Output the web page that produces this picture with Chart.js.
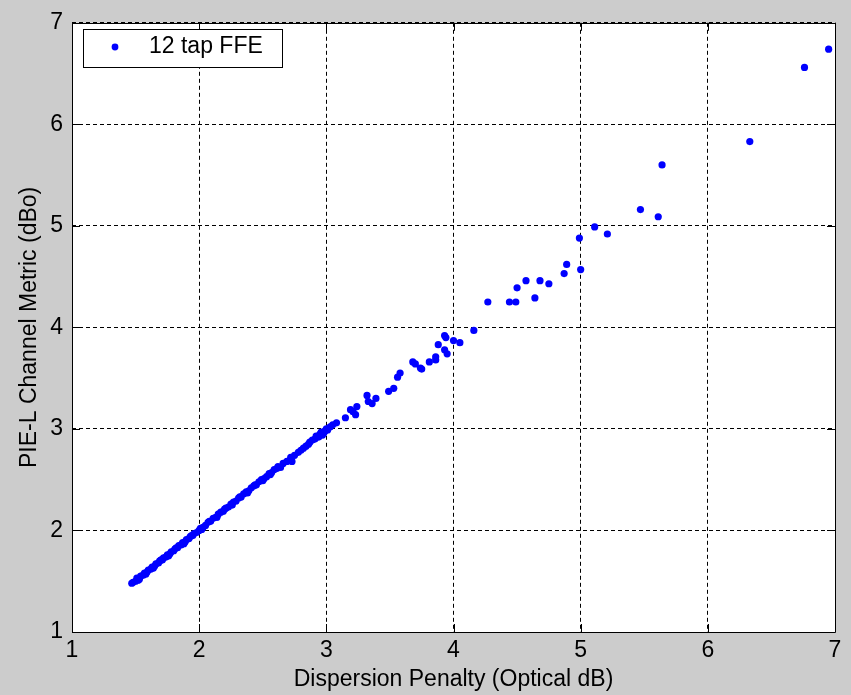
<!DOCTYPE html>
<html>
<head>
<meta charset="utf-8">
<script src="https://cdn.jsdelivr.net/npm/chart.js@4.4.1/dist/chart.umd.min.js"></script>
<style>
html, body { margin: 0; padding: 0; background: #cccccc; }
canvas { display: block; }
</style>
</head>
<body>
<canvas id="chart" width="851" height="695"></canvas>
<script>
// dispersion penalty (x) vs channel metric (y)
const penaltyX = [
1.47, 1.48, 1.50, 1.51, 1.53, 1.54, 1.56, 1.57, 1.59, 1.60,
1.62, 1.63, 1.65, 1.66, 1.68, 1.69, 1.71, 1.72, 1.74, 1.75,
1.77, 1.78, 1.80, 1.81, 1.83, 1.84, 1.86, 1.87, 1.89, 1.90,
1.92, 1.93, 1.95, 1.96, 1.98, 2.00, 2.01, 2.03, 2.05, 2.07,
2.09, 2.11, 2.13, 2.15, 2.17, 2.19, 2.21, 2.23, 2.25, 2.27,
2.29, 2.31, 2.33, 2.35, 2.37, 2.39, 2.41, 2.43, 2.45, 2.47,
2.49, 2.51, 2.53, 2.55, 2.57, 2.59, 2.61, 2.64, 2.66, 2.69,
2.72, 2.73, 2.75, 2.78, 2.80, 2.82, 2.84, 2.86, 2.87, 2.89,
2.91, 2.92, 2.94, 2.95, 2.96, 2.98, 2.99, 3.00, 3.01, 3.03,
3.05, 3.08, 3.15, 3.19, 3.21, 3.23, 3.24, 3.32, 3.33, 3.36,
3.39, 3.49, 3.53, 3.56, 3.58, 3.68, 3.70, 3.74, 3.75, 3.81,
3.86, 3.86, 3.88, 3.93, 3.95, 3.93, 3.94, 4.00, 4.05, 4.16,
4.27, 4.44, 4.49, 4.50, 4.57, 4.64, 4.68, 4.75, 4.87, 4.89,
5.00, 4.99, 5.11, 5.21, 5.47, 5.61, 5.64, 6.33, 6.76, 6.95,
1.52, 1.58, 1.64, 1.70, 1.76, 1.82, 1.88, 1.94, 2.02, 2.08,
2.14, 2.20, 2.26, 2.32, 2.38, 2.44, 2.50, 2.56, 2.62, 2.97
];
const metricY = [
1.48, 1.49, 1.50, 1.53, 1.52, 1.55, 1.56, 1.58, 1.59, 1.61,
1.62, 1.64, 1.65, 1.67, 1.68, 1.70, 1.71, 1.73, 1.74, 1.76,
1.77, 1.79, 1.80, 1.82, 1.83, 1.85, 1.86, 1.88, 1.89, 1.91,
1.92, 1.94, 1.95, 1.97, 1.98, 2.00, 2.02, 2.03, 2.05, 2.08,
2.09, 2.12, 2.13, 2.16, 2.18, 2.19, 2.22, 2.23, 2.26, 2.28,
2.29, 2.32, 2.33, 2.36, 2.38, 2.39, 2.42, 2.44, 2.45, 2.48,
2.50, 2.51, 2.53, 2.56, 2.57, 2.60, 2.61, 2.62, 2.66, 2.68,
2.72, 2.68, 2.74, 2.77, 2.79, 2.81, 2.83, 2.85, 2.87, 2.89,
2.90, 2.93, 2.92, 2.95, 2.97, 2.96, 2.98, 3.00, 2.99, 3.02,
3.04, 3.06, 3.11, 3.19, 3.17, 3.14, 3.22, 3.33, 3.27, 3.25,
3.30, 3.37, 3.40, 3.51, 3.55, 3.66, 3.64, 3.60, 3.59, 3.66,
3.68, 3.71, 3.83, 3.78, 3.74, 3.92, 3.90, 3.87, 3.85, 3.97,
4.25, 4.25, 4.25, 4.39, 4.46, 4.29, 4.46, 4.43, 4.53, 4.62,
4.57, 4.88, 4.99, 4.92, 5.16, 5.09, 5.60, 5.83, 6.56, 6.74,
1.51, 1.57, 1.63, 1.71, 1.75, 1.83, 1.87, 1.95, 2.01, 2.09,
2.13, 2.21, 2.25, 2.33, 2.37, 2.45, 2.49, 2.55, 2.63, 2.94
];
const seriesName = '12 tap FFE';
const xTitle = 'Dispersion Penalty (Optical dB)';
const yTitle = 'PIE-L Channel Metric (dBo)';
const axisMin = 1;
const axisMax = 7;

const FONT = '"Liberation Sans", Arial, sans-serif';

const points = penaltyX.map((x, i) => ({ x: x, y: metricY[i] }));

const frame = {
  id: 'frame',
  beforeDraw(chart) {
    const { ctx, chartArea: a } = chart;
    ctx.save();
    ctx.fillStyle = '#ffffff';
    ctx.fillRect(a.left, a.top, a.right - a.left, a.bottom - a.top);
    ctx.restore();
  },
  afterDraw(chart) {
    const { ctx, chartArea: a } = chart;
    const xs = chart.scales.x;
    const ys = chart.scales.y;
    const tl = 8;
    ctx.save();
    ctx.strokeStyle = '#000';
    ctx.lineWidth = 1;
    ctx.beginPath();
    ctx.rect(Math.round(a.left) + 0.5, Math.round(a.top) + 0.5,
      Math.round(a.right - a.left), Math.round(a.bottom - a.top));
    for (let v = axisMin; v <= axisMax; v++) {
      const px = Math.round(xs.getPixelForValue(v)) + 0.5;
      ctx.moveTo(px, a.top); ctx.lineTo(px, a.top + tl);
      ctx.moveTo(px, a.bottom); ctx.lineTo(px, a.bottom - tl);
      const py = Math.round(ys.getPixelForValue(v)) + 0.5;
      ctx.moveTo(a.left, py); ctx.lineTo(a.left + tl, py);
      ctx.moveTo(a.right, py); ctx.lineTo(a.right - tl, py);
    }
    ctx.stroke();

    // legend box
    const lx = 83.5, ly = 29.5, lw = 199, lh = 38;
    ctx.fillStyle = '#fff';
    ctx.fillRect(lx, ly, lw, lh);
    ctx.strokeRect(lx, ly, lw, lh);
    ctx.fillStyle = '#0000ff';
    ctx.beginPath();
    ctx.arc(115, 47, 3.4, 0, Math.PI * 2);
    ctx.fill();
    ctx.fillStyle = '#000';
    ctx.font = '23px ' + FONT;
    ctx.textBaseline = 'middle';
    ctx.fillText(seriesName, 149, 47);
    ctx.restore();
  }
};

new Chart(document.getElementById('chart'), {
  type: 'scatter',
  data: {
    datasets: [{
      label: seriesName,
      data: points,
      backgroundColor: '#0000ff',
      borderWidth: 0,
      pointRadius: 3.6,
      pointHoverRadius: 3.6
    }]
  },
  options: {
    responsive: false,
    animation: false,
    devicePixelRatio: 1,
    layout: { padding: { top: 18, right: 16, left: 0, bottom: 0 } },
    plugins: {
      legend: { display: false },
      tooltip: { enabled: false }
    },
    scales: {
      x: {
        type: 'linear',
        min: axisMin,
        max: axisMax,
        afterFit(s) { s.height = 63; },
        ticks: {
          stepSize: 1,
          color: '#000',
          font: { family: FONT, size: 23 },
          padding: 5,
          maxRotation: 0
        },
        grid: { color: '#000', lineWidth: 1, drawTicks: false },
        border: { display: false, dash: [4, 3] },
        title: {
          display: true,
          text: xTitle,
          color: '#000',
          font: { family: FONT, size: 23 },
          padding: { top: 0, bottom: 2 }
        }
      },
      y: {
        type: 'linear',
        min: axisMin,
        max: axisMax,
        afterFit(s) { s.width = 72; },
        ticks: {
          stepSize: 1,
          color: '#000',
          font: { family: FONT, size: 23 },
          padding: 9
        },
        grid: { color: '#000', lineWidth: 1, drawTicks: false },
        border: { display: false, dash: [4, 3] },
        title: {
          display: true,
          text: yTitle,
          color: '#000',
          font: { family: FONT, size: 23 },
          padding: { top: 16, bottom: 0 }
        }
      }
    }
  },
  plugins: [frame]
});
</script>
</body>
</html>
